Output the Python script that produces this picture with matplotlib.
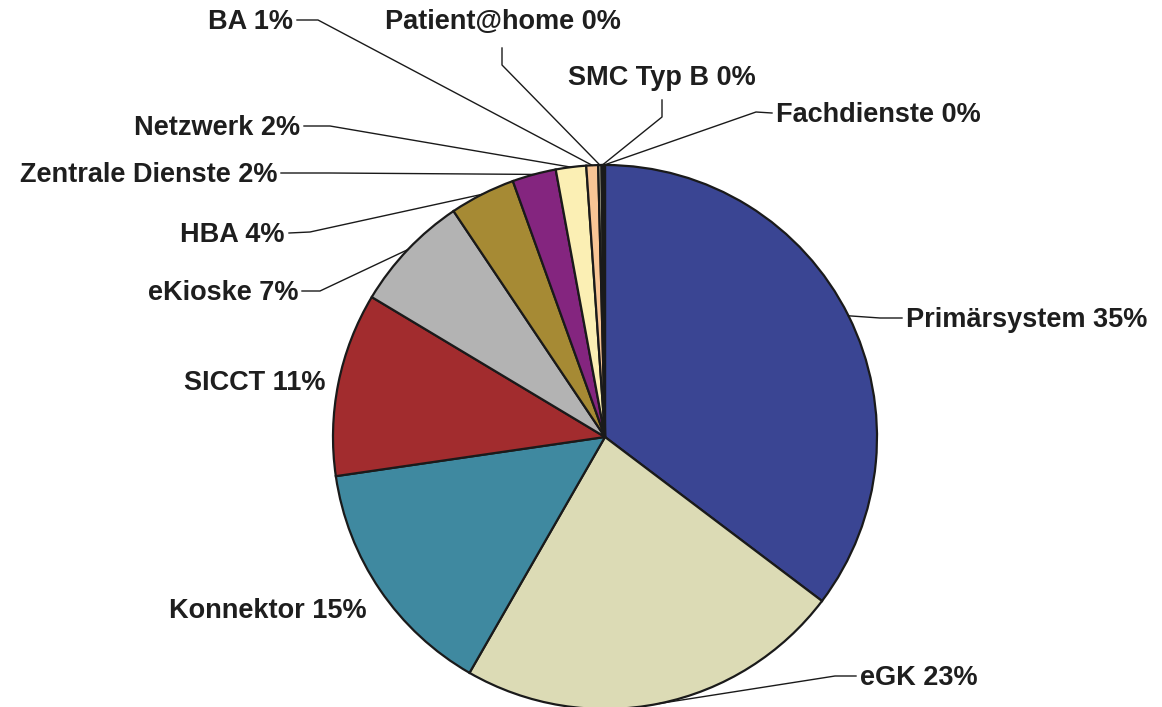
import numpy as np
import matplotlib.pyplot as plt

W, H = 1162, 707

# Anteile in Prozent (im Uhrzeigersinn ab 12 Uhr)
labels = ["Primärsystem", "eGK", "Konnektor", "SICCT", "eKioske", "HBA",
          "Zentrale Dienste", "Netzwerk", "BA", "Patient@home", "SMC Typ B",
          "Fachdienste"]
values = [35.3, 23.0, 14.4, 10.9, 7.0, 3.9, 2.6, 1.8, 0.7, 0.2, 0.1, 0.1]
shown_pct = [35, 23, 15, 11, 7, 4, 2, 2, 1, 0, 0, 0]
colors = ["#3A4593", "#DCDBB5", "#3F89A0", "#A22C2E", "#B3B3B3", "#A68A34",
          "#84257F", "#FBEFB4", "#F8C595", "#B0AE98", "#C8C8C8", "#5C5A3C"]

# Beschriftungen: Textposition (Pixel), Ausrichtung, Knickpunkte der Linie
label_layout = [
    ((906, 318), "left", [(880, 318)]),
    ((860, 676), "left", [(835, 676)]),
    ((367, 609), "right", None),
    ((325, 381), "right", None),
    ((298, 291), "right", [(320, 291)]),
    ((285, 233), "right", [(310, 232)]),
    ((277, 173), "right", [(330, 173)]),
    ((300, 126), "right", [(330, 126)]),
    ((293, 20), "right", [(318, 20)]),
    ((503, 20), "center", [(502, 48), (502, 65)]),
    ((662, 76), "center", [(662, 100), (662, 117)]),
    ((776, 113), "left", [(756, 112)]),
]

fig = plt.figure(figsize=(W / 100, H / 100), dpi=100)
ax = fig.add_axes([0, 0, 1, 1])

cx, cy, r = 605, H - 437, 272
wedges, _ = ax.pie(values, colors=colors, startangle=90, counterclock=False,
                   center=(cx, cy), radius=r,
                   wedgeprops=dict(edgecolor="#1a1a1a", linewidth=1.6))
ax.set_xlim(0, W)
ax.set_ylim(0, H)
ax.set_aspect("equal")
ax.axis("off")

for w, name, pct, (pos, ha, elbows) in zip(wedges, labels, shown_pct, label_layout):
    tx, ty = pos[0], H - pos[1]
    ax.text(tx, ty - 2, f"{name} {pct}%", ha=ha, va="center", fontsize=19.5,
            fontweight="bold", family="Liberation Sans", color="#1e1e1e")
    if elbows is None:
        continue
    mid = np.deg2rad((w.theta1 + w.theta2) / 2)
    ax_x = cx + r * np.cos(mid)
    ax_y = cy + r * np.sin(mid)
    pts = [(ax_x, ax_y)] + [(ex, H - ey) for ex, ey in reversed(elbows)]
    if ha == "left":
        pts.append((tx - 4, ty))
    elif ha == "right":
        pts.append((tx + 4, ty))
    xs, ys = zip(*pts)
    ax.plot(xs, ys, color="#1a1a1a", linewidth=1.0)

fig.savefig("out.png", dpi=100)
